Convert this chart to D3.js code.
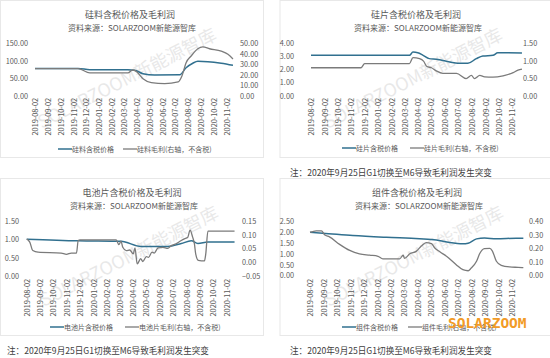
<!DOCTYPE html>
<html>
<head>
<meta charset="utf-8">
<script src="https://cdn.jsdelivr.net/npm/d3@7"></script>
<style>
  body { margin: 0; background: #fff; }
  svg text { font-family: "Noto Sans CJK SC", "Noto Sans", sans-serif; }
</style>
</head>
<body>
<svg id="chart" width="550" height="358"></svg>
<script>
// monthly x tick labels (shared by all four charts)
const monthTicks = ["2019-08-02","2019-09-02","2019-10-02","2019-11-02","2019-12-02","2020-01-02",
  "2020-02-02","2020-03-02","2020-04-02","2020-05-02","2020-06-02","2020-07-02",
  "2020-08-02","2020-09-02","2020-10-02","2020-11-02"];

// 硅料
const siliconPrice = [["2019-08-02",78],["2019-11-13",78],["2019-12-11",74.5],["2020-03-11",74],
  ["2020-03-27",73],["2020-04-16",63],["2020-05-14",59.5],["2020-07-13",60],["2020-07-28",80],
  ["2020-08-13",93],["2020-08-25",98.5],["2020-09-18",97.5],["2020-10-20",93],["2020-11-17",87]];
const siliconProfit = [["2019-08-02",25.8],["2019-11-13",25.8],["2019-12-11",21.8],["2020-03-11",21.8],
  ["2020-03-22",24.5],["2020-03-30",23.5],["2020-04-16",16.2],["2020-05-06",12.4],["2020-06-07",11.5],
  ["2020-07-09",13.1],["2020-07-18",18.8],["2020-07-28",31.5],["2020-08-09",37.9],["2020-08-25",44.8],
  ["2020-09-06",46.5],["2020-09-22",44.8],["2020-10-20",42.6],["2020-11-05",39.5],["2020-11-17",35]];

// 硅片
const waferPrice = [["2019-08-02",3.08],["2020-03-13",3.08],["2020-03-21",3.33],["2020-04-01",3.28],
  ["2020-04-13",3.08],["2020-04-27",2.83],["2020-05-13",2.78],["2020-06-13",2.57],["2020-07-01",2.47],
  ["2020-07-24",2.47],["2020-08-12",2.83],["2020-08-27",3.03],["2020-09-19",3.08],["2020-09-30",3.28],
  ["2020-11-24",3.25]];
const waferProfit = [["2019-08-02",0.80],["2019-11-24",0.80],["2019-12-02",0.92],["2020-03-13",0.92],
  ["2020-03-21",1.09],["2020-04-05",1.06],["2020-04-14",0.99],["2020-04-22",0.83],["2020-05-02",0.80],
  ["2020-05-13",0.71],["2020-05-28",0.64],["2020-06-28",0.64],["2020-07-20",0.49],["2020-08-01",0.58],
  ["2020-08-08",0.49],["2020-08-20",0.58],["2020-08-31",0.54],["2020-09-19",0.53],["2020-10-12",0.57],
  ["2020-11-04",0.66],["2020-11-15",0.73],["2020-11-24",0.76]];

// 电池片
const cellPrice = [["2019-08-02",1.01],["2019-11-28",0.965],["2020-03-05",0.95],["2020-04-20",0.81],
  ["2020-06-20",0.81],["2020-07-21",0.89],["2020-08-13",0.965],["2020-08-28",0.89],["2020-09-20",0.93],
  ["2020-11-20",0.93]];
const cellProfit = [["2019-08-02",0.085],["2019-08-05",0.082],["2019-08-09",0.074],["2019-08-16",0.043],
  ["2019-08-28",0.037],["2019-10-20",0.034],["2019-11-01",0.029],["2019-11-12",0.034],["2019-11-24",0.034],
  ["2019-11-28",0.080],["2019-12-02",0.082],["2020-02-23",0.082],["2020-02-29",0.065],["2020-03-05",0.077],
  ["2020-03-09",0.055],["2020-03-17",0.043],["2020-03-25",0.045],["2020-04-02",0.031],["2020-04-06",0.053],
  ["2020-04-11",-0.006],["2020-04-19",0.013],["2020-04-24",0.003],["2020-05-02",0.021],["2020-05-07",0.018],
  ["2020-05-15",0.037],["2020-05-20",0.034],["2020-05-29",0.053],["2020-06-09",0.055],["2020-06-20",0.051],
  ["2020-06-28",0.061],["2020-07-09",0.068],["2020-07-21",0.080],["2020-07-28",0.086],["2020-08-05",0.092],
  ["2020-08-10",0.118],["2020-08-16",0.092],["2020-08-20",0.068],["2020-08-23",0.031],["2020-08-29",0.007],
  ["2020-09-12",0.005],["2020-09-15",0.03],["2020-09-20",0.114],["2020-11-20",0.114]];

// 组件
const modulePrice = [["2019-08-02",1.99],["2019-08-31",1.95],["2019-11-07",1.84],["2020-01-22",1.76],
  ["2020-04-06",1.70],["2020-05-14",1.64],["2020-06-13",1.52],["2020-07-13",1.46],["2020-07-25",1.49],
  ["2020-08-13",1.69],["2020-08-31",1.73],["2020-09-27",1.69],["2020-11-11",1.72],["2020-11-27",1.72]];
const moduleProfit = [["2019-08-02",0.318],["2019-08-16",0.33],["2019-08-28",0.33],["2019-09-04",0.30],
  ["2019-09-15",0.285],["2019-10-08",0.23],["2019-10-31",0.185],["2019-11-22",0.16],["2019-12-15",0.15],
  ["2020-01-03",0.142],["2020-01-14",0.123],["2020-02-21",0.123],["2020-02-29",0.15],["2020-03-03",0.126],
  ["2020-03-15",0.16],["2020-03-30",0.18],["2020-04-10",0.217],["2020-04-21",0.243],["2020-05-03",0.235],
  ["2020-05-10",0.205],["2020-05-22",0.175],["2020-06-06",0.142],["2020-06-28",0.08],["2020-07-13",0.043],
  ["2020-07-25",0.035],["2020-08-01",0.055],["2020-08-13",0.105],["2020-08-20",0.16],["2020-08-31",0.198],
  ["2020-09-12",0.20],["2020-09-18",0.18],["2020-09-27",0.105],["2020-10-08",0.075],["2020-10-27",0.063],
  ["2020-11-15",0.06],["2020-11-27",0.058]];

const subtitle = "资料来源：SOLARZOOM新能源智库";
const noteText = "注：2020年9月25日G1切换至M6导致毛利润发生突变";

const priceColor = "#31708f",
      profitColor = "#7b7b7b",
      textColor = "#595959";

const parse = d3.timeParse("%Y-%m-%d");
const fmt = d3.format(".2f");

const panels = [
  {ox: 0, oy: 0, title: "硅料含税价格及毛利润", price: siliconPrice, profit: siliconProfit,
   leftDomain: [0, 150], leftTicks: [0, 50, 100, 150], rightDomain: [0, 50], rightTicks: [0, 10, 20, 30, 40, 50],
   x0: 35, x1: 226.7, yTop: 43.3, yBot: 95.7, leftX: 28, rightX: 240, titleX: 130, labelY: 98,
   legend: ["硅料含税价格", "硅料毛利(右轴，不含税)"], legX: [58, 123], legY: 149, note: false},
  {ox: 275, oy: 0, title: "硅片含税价格及毛利润", price: waferPrice, profit: waferProfit,
   leftDomain: [0, 4], leftTicks: [0, 1, 2, 3, 4], rightDomain: [0, 1.5], rightTicks: [0, 0.5, 1, 1.5],
   x0: 36, x1: 237.3, yTop: 43.3, yBot: 95.7, leftX: 19, rightX: 248, titleX: 141, labelY: 98,
   legend: ["硅片含税价格", "硅片毛利(右轴，不含税)"], legX: [67, 135], legY: 148, note: true, noteX: 15, noteY: 173},
  {ox: 0, oy: 178, title: "电池片含税价格及毛利润", price: cellPrice, profit: cellProfit,
   leftDomain: [0, 1.5], leftTicks: [0, 0.5, 1, 1.5], rightDomain: [-0.05, 0.15], rightTicks: [-0.05, 0, 0.05, 0.1, 0.15],
   x0: 26.7, x1: 226.7, yTop: 43.3, yBot: 98, leftX: 19, rightX: 242, titleX: 132, labelY: 101,
   legend: ["电池片含税价格", "电池片毛利(右轴，不含税)"], legX: [50, 125], legY: 149, note: true, noteX: 7, noteY: 173},
  {ox: 275, oy: 178, title: "组件含税价格及毛利润", price: modulePrice, profit: moduleProfit,
   leftDomain: [0, 2.5], leftTicks: [0, 0.5, 1, 1.5, 2, 2.5], rightDomain: [0, 0.4], rightTicks: [0, 0.1, 0.2, 0.3, 0.4],
   x0: 35, x1: 237.3, yTop: 43.3, yBot: 97.5, leftX: 19, rightX: 254, titleX: 142, labelY: 101,
   legend: ["组件含税价格", "组件毛利(右轴，不含税)"], legX: [67, 133], legY: 149, note: true, noteX: 15, noteY: 173}
];

const svg = d3.select("#chart");
svg.append("rect").attr("width", 550).attr("height", 358).attr("fill", "#fff");

panels.forEach(p => {
  const g = svg.append("g").attr("transform", "translate(" + p.ox + "," + p.oy + ")");

  // light frame of the chart box
  g.append("rect")
    .attr("x", p.ox ? 5 : 0.5).attr("y", 0.5)
    .attr("width", p.ox ? 275 : 263).attr("height", 157)
    .attr("fill", "none").attr("stroke", "#e8e8e8");

  g.append("text")
    .attr("x", p.titleX).attr("y", 18)
    .style("text-anchor", "middle").style("font-size", "9px").style("fill", textColor)
    .text(p.title);
  g.append("text")
    .attr("x", p.titleX + 2).attr("y", 31)
    .style("text-anchor", "middle").style("font-size", "8px").style("fill", textColor)
    .text(subtitle);

  // faint watermark
  g.append("text")
    .attr("transform", "translate(" + (p.titleX) + ",84) rotate(-27)")
    .style("text-anchor", "middle").style("font-size", "18px")
    .style("fill", "#9a9a9a").style("opacity", 0.22)
    .text("SOLARZOOM新能源智库");

  const x = d3.scaleTime()
    .domain([parse(monthTicks[0]), parse(monthTicks[monthTicks.length - 1])])
    .range([p.x0, p.x1]);
  const yL = d3.scaleLinear().domain(p.leftDomain).range([p.yBot, p.yTop]);
  const yR = d3.scaleLinear().domain(p.rightDomain).range([p.yBot, p.yTop]);

  const left = g.append("g")
    .attr("transform", "translate(" + p.leftX + ",0)")
    .call(d3.axisLeft(yL).tickValues(p.leftTicks).tickFormat(fmt).tickSize(0).tickPadding(0));
  const right = g.append("g")
    .attr("transform", "translate(" + p.rightX + ",0)")
    .call(d3.axisRight(yR).tickValues(p.rightTicks).tickFormat(fmt).tickSize(0).tickPadding(0));
  const bottom = g.append("g")
    .attr("transform", "translate(0," + p.labelY + ")")
    .call(d3.axisBottom(x).tickValues(monthTicks.map(parse)).tickFormat(d3.timeFormat("%Y-%m-%d")).tickSize(0));
  bottom.selectAll("text")
    .attr("x", 0).attr("y", 0).attr("dy", "0.35em")
    .attr("transform", "rotate(-90)")
    .style("text-anchor", "end");

  [left, right, bottom].forEach(a => {
    a.select(".domain").remove();
    a.selectAll("text").style("font-size", "7.3px").style("fill", textColor)
      .style("font-family", "'Noto Sans CJK SC', sans-serif");
  });

  const priceLine = d3.line()
    .x(d => x(parse(d[0])))
    .y(d => yL(d[1]))
    .curve(d3.curveMonotoneX);
  const profitLine = d3.line()
    .x(d => x(parse(d[0])))
    .y(d => yR(d[1]))
    .curve(d3.curveMonotoneX);

  g.append("path").datum(p.price)
    .attr("d", priceLine).attr("fill", "none")
    .attr("stroke", priceColor).attr("stroke-width", 1.5);
  g.append("path").datum(p.profit)
    .attr("d", profitLine).attr("fill", "none")
    .attr("stroke", profitColor).attr("stroke-width", 1.3);

  // legend
  [priceColor, profitColor].forEach((c, i) => {
    g.append("line")
      .attr("x1", p.legX[i]).attr("x2", p.legX[i] + 14)
      .attr("y1", p.legY).attr("y2", p.legY)
      .attr("stroke", c).attr("stroke-width", i ? 1.3 : 1.5);
    g.append("text")
      .attr("x", p.legX[i] + 14).attr("y", p.legY + 2.5)
      .style("font-size", "7px").style("fill", textColor)
      .text(p.legend[i]);
  });

  if (p.note) {
    g.append("text")
      .attr("x", p.noteX).attr("y", p.noteY + 3)
      .style("font-size", "8.6px").style("fill", "#404040")
      .text(noteText);
  }
});

// orange logo stamped over the last legend, as in the source image
svg.append("text")
  .attr("x", 448).attr("y", 328)
  .style("font-family", "'DejaVu Sans Mono', monospace")
  .style("font-size", "14.5px").style("font-weight", "bold")
  .style("fill", "#f29b26")
  .text("SOLARZOOM");
</script>
</body>
</html>
